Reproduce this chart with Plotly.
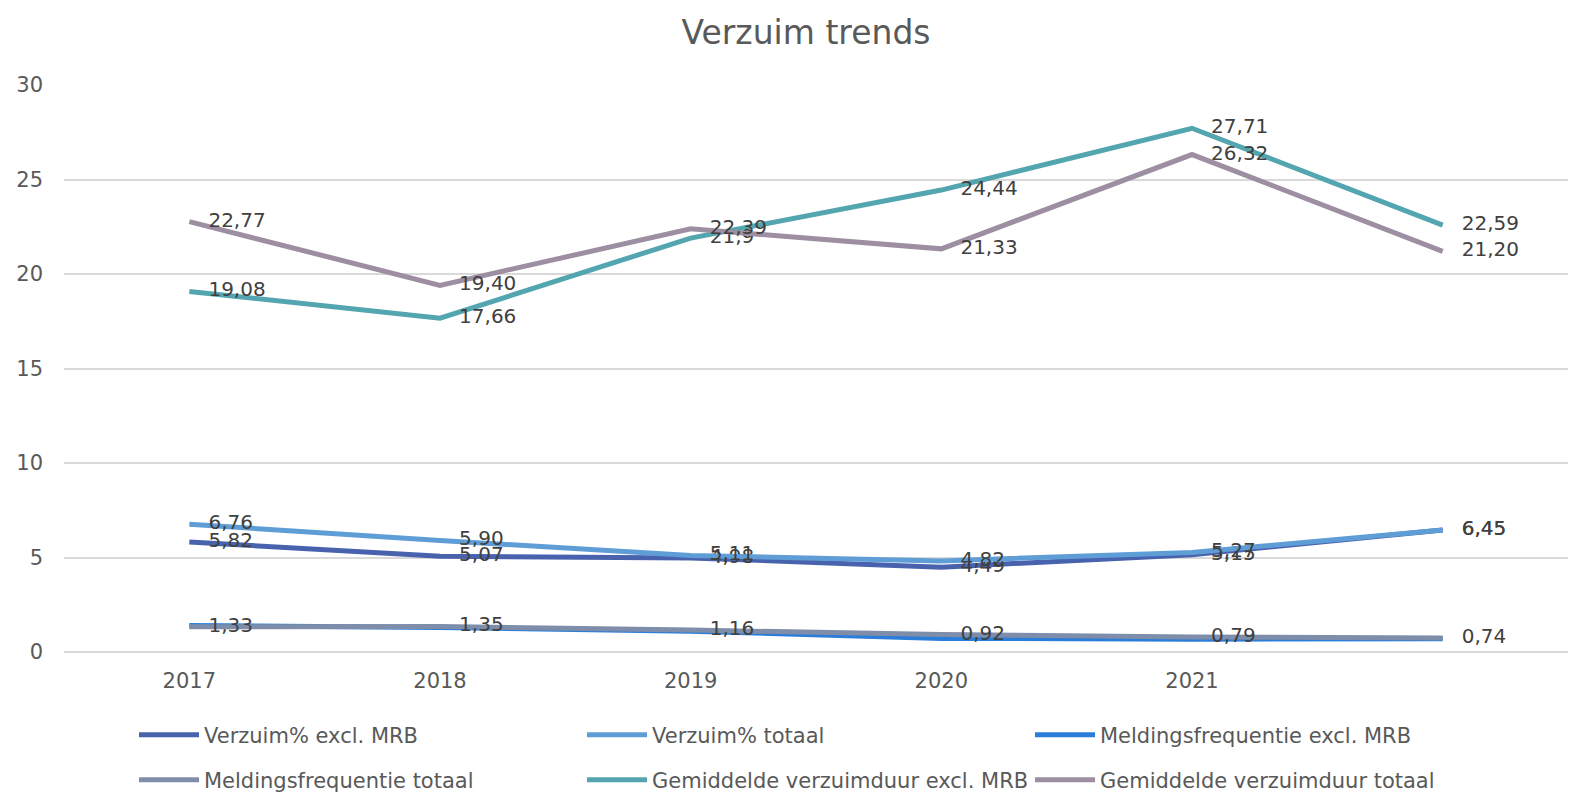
import plotly.graph_objects as go

categories = ["2017", "2018", "2019", "2020", "2021", ""]
verzuim_excl = [5.82, 5.07, 4.98, 4.49, 5.15, 6.45]
verzuim_totaal = [6.76, 5.90, 5.11, 4.82, 5.27, 6.45]
melding_excl = [1.40, 1.30, 1.10, 0.72, 0.68, 0.70]
melding_totaal = [1.33, 1.35, 1.16, 0.92, 0.79, 0.74]
duur_excl = [19.08, 17.66, 21.9, 24.44, 27.71, 22.59]
duur_totaal = [22.77, 19.40, 22.39, 21.33, 26.32, 21.20]

series = [
    ("Verzuim% excl. MRB", verzuim_excl, "#4862AD", True, "legend"),
    ("Verzuim% totaal", verzuim_totaal, "#5F9DD6", True, "legend"),
    ("Meldingsfrequentie excl. MRB", melding_excl, "#2A7DD8", False, "legend"),
    ("Meldingsfrequentie totaal", melding_totaal, "#7E8DAA", True, "legend2"),
    ("Gemiddelde verzuimduur excl. MRB", duur_excl, "#53A5AF", True, "legend2"),
    ("Gemiddelde verzuimduur totaal", duur_totaal, "#9D8EA2", True, "legend2"),
]

def fmt(v):
    s = f"{v:.2f}"
    if v == 21.9:
        s = "21.9"
    return "\u00a0\u00a0\u00a0" + s.replace(".", ",")

W, H = 1560, 784
FONT = "DejaVu Sans"
x = list(range(len(categories)))
fig = go.Figure()
for name, vals, color, labels, leg in series:
    fig.add_trace(go.Scatter(
        x=x, y=vals, name=name, mode="lines+text" if labels else "lines",
        line=dict(color=color, width=5),
        text=[fmt(v) for v in vals] if labels else None,
        textposition="middle right",
        textfont=dict(family=FONT, size=20, color="#404040"),
        cliponaxis=False, legend=leg,
    ))

legcommon = dict(orientation="h", xref="container", yref="container",
                 x=126 / W, xanchor="left", yanchor="middle",
                 font=dict(family=FONT, size=21, color="#595959"),
                 itemwidth=60, entrywidth=373, entrywidthmode="pixels",
                 traceorder="normal", bgcolor="rgba(0,0,0,0)")

fig.update_layout(
    width=W, height=H,
    paper_bgcolor="white", plot_bgcolor="white",
    margin=dict(l=56, r=0, t=77, b=140, autoexpand=False),
    title=dict(text="Verzuim trends", x=798 / W, xref="container", xanchor="center",
               y=1 - 24 / H, yref="container", yanchor="middle",
               font=dict(family=FONT, size=33, color="#595959")),
    font=dict(family=FONT, color="#595959"),
    xaxis=dict(range=[-0.5, 5.5], tickmode="array", tickvals=x, ticktext=categories,
               showgrid=False, zeroline=False, showline=False, automargin=False,
               tickfont=dict(size=21, color="#595959"), ticks="", ticklabelstandoff=14),
    yaxis=dict(range=[0, 30], dtick=5, showgrid=True, gridcolor="#D9D9D9", gridwidth=1.5,
               zeroline=True, zerolinecolor="#D9D9D9", zerolinewidth=1.5, showline=False,
               automargin=False,
               tickfont=dict(size=21, color="#595959"), ticks="", ticklabelstandoff=20),
    legend=dict(legcommon, y=1 - 727 / H),
    legend2=dict(legcommon, y=1 - 772 / H),
)
fig.write_html("out.html")
